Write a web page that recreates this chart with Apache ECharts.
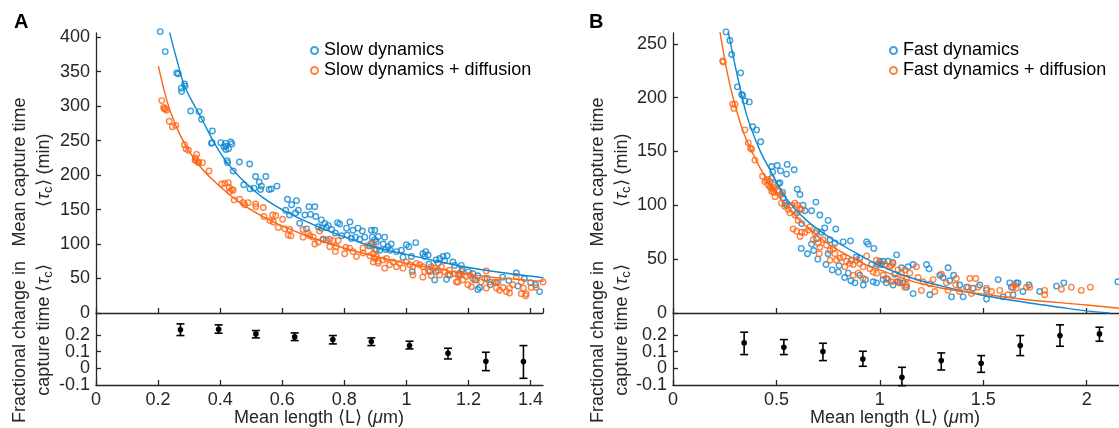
<!DOCTYPE html>
<html><head><meta charset="utf-8">
<script src="https://cdn.jsdelivr.net/npm/echarts@6/dist/echarts.min.js"></script>
<style>html,body{margin:0;padding:0;background:#fff}#c{width:1119px;height:428px}</style>
</head><body><div id="c"></div>
<script>
// ---------- Panel A: slow dynamics (x = mean length um, y = mean capture time min)
const slowDyn = [[0.207,408],[0.223,379],[0.26,348],[0.265,347],[0.285,332],[0.287,329],[0.275,326],[0.276,321],[0.305,293],[0.332,292],[0.340,281],[0.375,264],[0.374,247],[0.372,246],[0.402,247],[0.417,246],[0.418,242],[0.434,248],[0.438,245],[0.418,237],[0.427,238],[0.412,241],[0.422,221],[0.424,218],[0.462,219],[0.495,216],
[0.442,206],[0.514,198],[0.547,198],[0.526,190],[0.533,184],[0.530,179],[0.509,181],[0.496,180],[0.476,186],[0.558,179],[0.565,180],[0.583,184],
[0.617,165],[0.630,157],[0.646,163],[0.611,149],[0.623,142],[0.643,145],[0.652,149],[0.686,154],[0.705,154],[0.673,142],[0.691,143],[0.708,140],[0.656,130],[0.678,122],
[0.726,135],[0.737,130],[0.748,127],[0.726,123],[0.742,124],[0.759,121],[0.716,125],
[0.778,131],[0.785,129],[0.818,132],[0.807,123],[0.828,120],[0.844,123],[0.858,119],[0.887,120],[0.898,120],[0.836,110],
[0.771,116],[0.791,112],[0.809,113],[0.823,108],[0.850,107],[0.866,110],[0.898,106],[0.882,97],[0.903,92],[0.732,107],[0.742,106],
[0.909,111],[0.930,110],[0.890,110],[0.903,103],[0.887,101],[0.925,100],[0.941,96],[0.951,100],[0.948,91],[0.933,92],[0.914,91],
[0.968,89],[0.984,91],[1.0,99],[1.008,96],[1.03,102],[0.989,81],[1.016,82],[1.053,86],[1.062,89],[1.07,84],[1.059,82],[1.073,71],[1.096,77],[1.107,79],[1.118,82],[1.131,83],[1.123,76],[1.102,72],[1.15,74],[1.155,69],[1.177,69],[1.075,60],[1.096,60],[1.129,49],[1.14,55],[1.172,57],[1.214,57],[1.23,54],[1.22,48],[1.236,37],[1.23,34],[1.354,58],[1.359,39],[1.416,41],[1.429,31],[1.019,60],[1.091,48],
[1.26,50],[1.29,44],[1.31,52],[1.33,47],[1.38,50],[1.40,44],[1.27,41],[1.2,60],[1.18,63]];
const slowDynDiff = [[0.212,308],[0.218,298],[0.223,296],[0.227,294],[0.22,296],[0.236,278],[0.246,270],[0.257,272],[0.285,244],[0.290,238],[0.298,236],[0.324,230],[0.320,225],[0.322,221],[0.331,218],[0.343,218],
[0.319,222],[0.329,219],[0.364,206],
[0.405,187],[0.415,188],[0.426,189],[0.429,182],[0.437,179],[0.431,176],[0.442,178],
[0.445,164],[0.463,165],[0.474,160],[0.479,157],[0.49,160],[0.514,158],[0.515,154],[0.539,153],[0.541,140],[0.56,134],[0.571,132],[0.569,142],[0.579,141],
[0.601,136],[0.587,124],[0.608,122],[0.624,121],[0.619,113],[0.628,112],
[0.667,121],[0.683,116],[0.689,112],[0.7,110],[0.667,110],[0.72,119],[0.716,103],[0.705,100],
[0.732,107],[0.753,107],[0.764,105],[0.78,105],[0.753,96],[0.774,96],[0.771,89],[0.805,95],[0.817,94],[0.828,89],[0.801,86],[0.839,82],[0.86,87],[0.882,83],[0.898,79],[0.909,75],[0.86,94],[0.876,98],[0.893,101],
[0.893,86],[0.903,82],[0.893,74],[0.909,72],[0.925,77],[0.936,79],[0.930,65],[0.946,70],[0.957,74],[0.968,67],[0.978,72],[0.989,65],[1.0,74],[1.011,70],[1.021,67],[1.032,72],[1.043,70],[1.053,67],[1.059,60],[1.070,62],[1.080,67],[1.091,65],[1.102,62],[1.113,67],[1.123,60],[1.139,62],[1.155,57],[1.166,55],[1.177,60],[1.193,53],[1.204,55],[1.214,50],[1.225,48],[1.241,45],[1.252,50],[1.257,61],[1.268,45],[1.284,45],[1.295,45],[1.300,33],[1.311,37],[1.322,31],[1.332,36],[1.343,41],[1.354,53],[1.370,45],[1.377,36],[1.384,25],[1.386,28],[1.402,37],[1.418,37],[1.440,45],[1.021,55],[1.053,52],[1.080,54],[1.107,55],[1.134,55],[1.161,45],[1.182,48],[1.198,41],[1.209,38],[1.257,36],[1.290,36],[1.332,29],[1.370,28],[1.172,54],[1.166,45],[0.898,92]];
const slowFit = [[0.237,407],[0.26,368],[0.286,328],[0.34,282],[0.372,254],[0.394,237],[0.422,218],[0.463,197],[0.539,167],[0.624,144],[0.732,122],[0.84,104],[0.9,95],[1.0,85],[1.1,75],[1.2,66],[1.3,59],[1.442,51]];
const slowDiffFit = [[0.201,358],[0.22,322],[0.238,294],[0.27,259],[0.302,233],[0.34,210],[0.388,188],[0.463,160],[0.571,132],[0.678,112],[0.785,96],[0.9,82],[1.0,72],[1.1,64],[1.204,56],[1.3,51],[1.442,46]];
// fractional change: [x, mean, lower, upper]
const fracA = [[0.272,0.23,0.196,0.266],[0.395,0.234,0.21,0.26],[0.515,0.206,0.182,0.226],[0.640,0.188,0.166,0.212],[0.763,0.172,0.146,0.196],[0.887,0.16,0.136,0.182],[1.01,0.136,0.116,0.162],[1.134,0.09,0.056,0.12],[1.256,0.042,-0.014,0.096],[1.377,0.04,-0.06,0.136]];

// ---------- Panel B: fast dynamics
const fastDyn = [[0.256,261],[0.275,253],[0.284,240],[0.327,223],[0.311,210],[0.332,203],[0.337,202],[0.348,197],[0.369,196],[0.385,173],[0.404,170],[0.424,159],
[0.477,136],[0.504,137],[0.552,138],[0.520,132],[0.549,129],[0.586,133],[0.482,131],[0.477,125],[0.517,121],[0.601,115],[0.614,110],
[0.509,120],[0.530,112],[0.533,107],[0.541,102],[0.549,100],
[0.691,103],[0.629,100],[0.638,95],[0.600,93],[0.670,95],
[0.710,91],[0.750,86],[0.787,78],[0.734,79],[0.694,76],[0.718,75],[0.622,83],
[0.670,64],[0.694,69],[0.759,68],[0.783,65],[0.823,66],[0.858,67],[0.936,66],[0.944,64],[0.971,60],[1.081,54],[1.062,47],[1.0,48],[0.992,45],[0.960,45],[0.903,51],[0.863,49],[0.887,52],[0.803,44],[0.847,37],[0.903,35],[0.931,31],[0.968,29],[0.984,28],[1.016,31],[1.032,28],[1.064,26],[1.088,29],[1.113,28],[1.129,24],[1.137,43],[1.105,42],[1.072,36],
[1.040,48],[1.016,48],[1.008,45],[1.161,45],[1.226,45],[1.238,41],[1.330,42],[1.290,35],[1.306,33],[1.357,35],[1.338,30],[1.386,26],[1.419,24],[1.451,23],[1.483,26],[1.516,21],[1.572,31],[1.628,28],[1.636,24],[1.660,28],[1.668,28],[1.692,20],[1.721,26],[1.773,20],[1.854,25],[1.890,28],[2.151,29],[1.032,32],[1.097,28],[1.161,18],[1.242,17],[1.347,15],[1.403,15],[1.516,13],[1.596,15],[1.644,17],
[0.65,55],[0.70,50],[0.74,45],[0.77,40],[0.80,38],[0.83,33],[0.86,30],[0.88,28],[0.92,26],[0.62,60],[0.68,58],[0.75,55]];
const fastDynDiff = [[0.240,234],[0.243,233],[0.288,194],[0.300,194],[0.295,190],[0.348,170],[0.364,158],[0.375,153],[0.380,152],[0.396,142],[0.433,127],[0.453,123],[0.469,122],[0.460,119],[0.477,117],[0.493,119],[0.509,114],[0.477,113],[0.493,108],
[0.444,122],[0.460,124],[0.469,117],[0.482,115],[0.488,112],[0.514,113],[0.525,110],[0.525,102],[0.541,99],[0.557,96],[0.573,100],[0.589,102],[0.601,100],[0.614,97],[0.622,96],[0.565,93],[0.589,91],[0.605,86],[0.581,78],[0.598,76],[0.622,75],[0.614,71],[0.638,75],[0.654,77],[0.662,80],[0.686,74],[0.678,68],[0.702,65],[0.710,61],[0.707,55],[0.726,68],[0.742,63],[0.759,58],[0.774,60],[0.783,55],[0.759,49],[0.791,49],[0.807,51],[0.823,52],[0.839,48],[0.831,43],[0.855,46],[0.871,45],[0.887,49],[0.903,46],[0.919,43],[0.936,53],[0.952,41],[0.968,38],[0.984,49],[1.0,46],[1.024,45],[1.048,43],[1.064,46],[1.088,40],[1.105,37],[1.129,32],[0.984,37],[1.016,35],[1.040,31],[1.056,29],[1.097,28],[1.121,24],[0.895,37],[0.919,32],[0.871,35],
[1.056,44],[1.121,40],[1.177,43],[1.145,37],[1.185,33],[1.209,29],[1.242,27],[1.258,31],[1.298,36],[1.322,28],[1.370,32],[1.367,26],[1.435,32],[1.464,32],[1.427,24],[1.475,24],[1.516,23],[1.540,20],[1.580,21],[1.620,17],[1.644,24],[1.652,26],[1.660,23],[1.709,24],[1.725,24],[1.797,21],[1.797,17],[1.878,22],[1.926,24],[1.974,21],[2.018,24],[1.081,29],[1.129,26],[1.201,21],[1.266,20],[1.330,21],[1.386,20],[1.443,18]];
const fastFit = [[0.267,261],[0.308,223],[0.356,184],[0.42,151],[0.469,133],[0.541,108],[0.646,86],[0.774,68],[0.919,52],[1.0,44],[1.145,33],[1.3,25],[1.483,17],[1.7,10],[1.9,4.5],[2.0,2],[2.11,0]];
const fastDiffFit = [[0.227,261],[0.275,212],[0.34,168],[0.404,141],[0.469,119],[0.549,99],[0.646,80],[0.759,63],[0.919,46],[1.0,40],[1.145,30],[1.3,23],[1.483,18],[1.7,12.5],[2.0,7.4],[2.2,3.5]];
const fracB = [[0.344,0.152,0.082,0.216],[0.536,0.126,0.082,0.172],[0.725,0.1,0.046,0.15],[0.918,0.056,0.012,0.102],[1.107,-0.054,-0.104,0.006],[1.297,0.046,-0.01,0.092],[1.490,0.03,-0.024,0.076],[1.679,0.136,0.076,0.196],[1.871,0.196,0.132,0.26],[2.062,0.206,0.162,0.246]];

const seriesNamesA = ['Slow dynamics','Slow dynamics + diffusion'];
const seriesNamesB = ['Fast dynamics','Fast dynamics + diffusion'];
const fracTicks = [-0.1,0,0.1,0.2];

const F = "'Liberation Sans', Arial, Helvetica, sans-serif";
const BLUE = '#0d87d2', ORANGE = '#ff6414', AX = '#262626';
const FS = 18;

const chart = echarts.init(document.getElementById('c'), null, {renderer:'canvas'});

function axisCommon(extra){
  return Object.assign({
    type:'value',
    axisLine:{show:true,onZero:false,lineStyle:{color:AX,width:1.3}},
    axisTick:{show:true,inside:true,length:5,lineStyle:{color:AX,width:1.3}},
    splitLine:{show:false},
    axisLabel:{color:AX,fontSize:FS,fontFamily:F,margin:6,hideOverlap:false}
  }, extra);
}
const fmtUpper = v => (v < -0.05 || v > 0.25) ? '' : String(Math.round(v*10)/10);
const fmtLower = v => (v < -0.05) ? String(Math.round(v*10)/10) : '';
// main fractional axis: line, ticks, labels 0..0.2
function fracAxis(gi){
  return axisCommon({gridIndex:gi, min:-0.1, max:0.331, interval:0.1,
    axisLabel:{color:AX,fontSize:FS,fontFamily:F,margin:6,hideOverlap:false,showMinLabel:false,formatter:fmtUpper},
    axisTick:{show:true,inside:true,length:5,lineStyle:{color:AX,width:1.3},customValues:fracTicks}});
}
// companion axis on the same grid carrying only the -0.1 label
function fracAxisLow(gi){
  return {type:'value', gridIndex:gi, min:-0.1, max:0.331, interval:0.1, position:'left', offset:0,
    axisLine:{show:false}, axisTick:{show:false}, splitLine:{show:false},
    axisLabel:{color:AX,fontSize:FS,fontFamily:F,margin:6,hideOverlap:false,showMinLabel:true,formatter:fmtLower}};
}
function errItem(params, api){
  const p = api.coord([api.value(0), api.value(1)]);
  const lo = api.coord([api.value(0), api.value(2)]);
  const hi = api.coord([api.value(0), api.value(3)]);
  const st = {stroke:'#000', lineWidth:1.6};
  return {type:'group', children:[
    {type:'line', shape:{x1:p[0],y1:lo[1],x2:p[0],y2:hi[1]}, style:st},
    {type:'line', shape:{x1:p[0]-4,y1:lo[1],x2:p[0]+4,y2:lo[1]}, style:st},
    {type:'line', shape:{x1:p[0]-4,y1:hi[1],x2:p[0]+4,y2:hi[1]}, style:st},
    {type:'circle', shape:{cx:p[0],cy:p[1],r:2.8}, style:{fill:'#000'}}
  ]};
}
function scatter(name, data, color, xi, yi){
  return {name, type:'scatter', xAxisIndex:xi, yAxisIndex:yi, data, symbol:'circle', symbolSize:5.5, clip:false,
    itemStyle:{color:'rgba(255,255,255,0)', borderColor:color, borderWidth:1.4}, z:2};
}
function fit(name, data, color, xi, yi){
  return {name, type:'line', xAxisIndex:xi, yAxisIndex:yi, data, symbol:'none', smooth:0.3,
    lineStyle:{color, width:1.4}, z:4, silent:true};
}
function leg(names, left){
  return {data:names, left, top:36, orient:'vertical', icon:'circle', itemWidth:7, itemHeight:7, itemGap:1,
    textStyle:{fontSize:FS, fontFamily:F, color:'#000', lineHeight:19, padding:[0,0,0,1]}};
}

const rich = {
  n:{fontSize:FS, fontFamily:F, fill:AX, lineHeight:22},
  i:{fontSize:FS, fontFamily:F, fill:AX, lineHeight:22, fontStyle:'italic'},
  s:{fontSize:13, fontFamily:F, fill:AX, lineHeight:10, verticalAlign:'bottom'}
};
function vtext(x, y, text){
  return {type:'text', x, y, rotation:Math.PI/2, silent:true,
    style:{text, align:'center', verticalAlign:'middle', font:FS+'px '+F, fill:AX, rich}};
}
const gridBase = {outerBoundsMode:'none', containLabel:false};

chart.setOption({
  animation:false,
  backgroundColor:'#fff',
  grid:[
    Object.assign({left:96, top:33, width:447, height:280}, gridBase),
    Object.assign({left:96, top:313, width:447, height:72}, gridBase),
    Object.assign({left:673, top:33, width:455, height:280}, gridBase),
    Object.assign({left:673, top:313, width:455, height:72}, gridBase)
  ],
  xAxis:[
    axisCommon({gridIndex:0, min:0, max:1.44, interval:0.2, axisLabel:{show:false}}),
    axisCommon({gridIndex:1, min:0, max:1.44, interval:0.2}),
    axisCommon({gridIndex:2, min:0, max:2.2, interval:0.5, axisLabel:{show:false}}),
    axisCommon({gridIndex:3, min:0, max:2.2, interval:0.5,
      axisLabel:{color:AX,fontSize:FS,fontFamily:F,margin:6,formatter:v => (v > 2.1 ? '' : String(v))}})
  ],
  yAxis:[
    axisCommon({gridIndex:0, min:0, max:406, interval:50}),
    fracAxis(1),
    axisCommon({gridIndex:2, min:0, max:260, interval:50}),
    fracAxis(3),
    fracAxisLow(1),
    fracAxisLow(3)
  ],
  legend:[leg(seriesNamesA, 305), leg(seriesNamesB, 884)],
  series:[
    scatter(seriesNamesA[0], slowDyn, BLUE, 0, 0),
    scatter(seriesNamesA[1], slowDynDiff, ORANGE, 0, 0),
    fit('fitSlow', slowFit, BLUE, 0, 0),
    fit('fitSlowDiff', slowDiffFit, ORANGE, 0, 0),
    {type:'custom', name:'fracA', xAxisIndex:1, yAxisIndex:1, data:fracA, renderItem:errItem, encode:{x:0,y:1}, z:3},
    scatter(seriesNamesB[0], fastDyn, BLUE, 2, 2),
    scatter(seriesNamesB[1], fastDynDiff, ORANGE, 2, 2),
    fit('fitFast', fastFit, BLUE, 2, 2),
    fit('fitFastDiff', fastDiffFit, ORANGE, 2, 2),
    {type:'custom', name:'fracB', xAxisIndex:3, yAxisIndex:3, data:fracB, renderItem:errItem, encode:{x:0,y:1}, z:3}
  ],
  graphic:[
    {type:'text', left:14, top:12, style:{text:'A', font:'bold 20px '+F, fill:'#000'}},
    {type:'text', left:589, top:12, style:{text:'B', font:'bold 20px '+F, fill:'#000'}},
    vtext(20, 172, '{n|Mean capture time}'),
    vtext(44, 170, '{n|⟨}{i|τ}{s|c}{n|⟩ (min)}'),
    vtext(20, 342, '{n|Fractional change in}'),
    vtext(44, 330, '{n|capture time ⟨}{i|τ}{s|c}{n|⟩}'),
    vtext(598, 172, '{n|Mean capture time}'),
    vtext(622, 170, '{n|⟨}{i|τ}{s|c}{n|⟩ (min)}'),
    vtext(598, 342, '{n|Fractional change in}'),
    vtext(622, 330, '{n|capture time ⟨}{i|τ}{s|c}{n|⟩}'),
    {type:'text', x:319, y:418, silent:true, style:{text:'{n|Mean length ⟨L⟩ (}{i|μ}{n|m)}', align:'center', verticalAlign:'middle', rich}},
    {type:'text', x:895, y:418, silent:true, style:{text:'{n|Mean length ⟨L⟩ (}{i|μ}{n|m)}', align:'center', verticalAlign:'middle', rich}}
  ]
});
</script></body></html>
